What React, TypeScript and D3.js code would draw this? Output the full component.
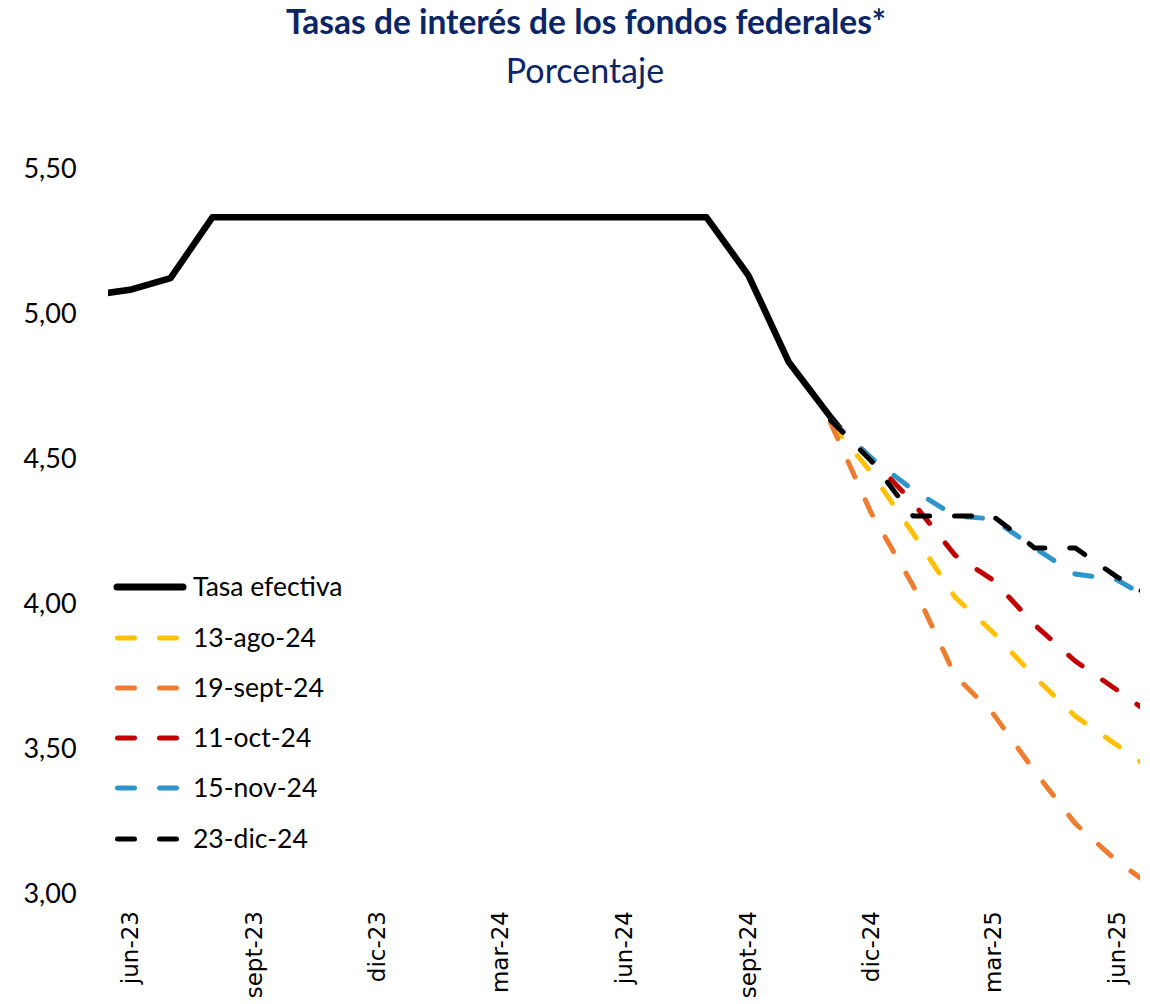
import * as d3 from "d3";

// Tasa efectiva (mensual)
const effDates = [
  "2023-05-01", "2023-06-01", "2023-07-01", "2023-08-01", "2023-09-01", "2023-10-01",
  "2023-11-01", "2023-12-01", "2024-01-01", "2024-02-01", "2024-03-01", "2024-04-01",
  "2024-05-01", "2024-06-01", "2024-07-01", "2024-08-01", "2024-09-01", "2024-10-01",
  "2024-11-01", "2024-11-08",
];
const effValues = [
  5.06, 5.08, 5.12, 5.33, 5.33, 5.33, 5.33, 5.33, 5.33, 5.33, 5.33, 5.33,
  5.33, 5.33, 5.33, 5.33, 5.13, 4.83, 4.64, 4.6,
];

// Expectativas implícitas (futuros)
const fcDates = [
  "2024-11-01", "2024-12-01", "2025-01-01", "2025-02-01", "2025-03-01",
  "2025-04-01", "2025-05-01", "2025-06-01", "2025-07-01",
];
const ago13 = [4.62, 4.45, 4.24, 4.02, 3.9, 3.745, 3.61, 3.51, 3.41];
const sept19 = [4.62, 4.31, 4.06, 3.75, 3.62, 3.42, 3.24, 3.11, 3.01];
const oct11 = [4.63, 4.5, 4.345, 4.165, 4.08, 3.925, 3.8, 3.7, 3.6];
const nov15 = [4.63, 4.5, 4.39, 4.3, 4.29, 4.19, 4.1, 4.08, 4.0];
const dic23 = [4.63, 4.49, 4.3, 4.3, 4.3, 4.19, 4.19, 4.09, 4.01];

const forecastNames = ["13-ago-24", "19-sept-24", "11-oct-24", "15-nov-24", "23-dic-24"];
const forecastColors = ["#FFC000", "#ED7D31", "#C00000", "#2F95C9", "#000000"];
const forecastSeries = [ago13, sept19, oct11, nov15, dic23];

const yTicks = [3.0, 3.5, 4.0, 4.5, 5.0, 5.5];
const monthNames = ["ene", "feb", "mar", "abr", "may", "jun", "jul", "ago", "sept", "oct", "nov", "dic"];

const parse = d3.timeParse("%Y-%m-%d");

export default function App() {
  const width = 1150;
  const height = 1004;
  const plotLeft = 108;
  const plotRight = 1140;

  const x = d3.scaleTime()
    .domain([parse("2023-06-01")!, parse("2025-06-01")!])
    .range([130, 1117]);
  const y = d3.scaleLinear().domain([3, 5.5]).range([893, 168]);

  const line = d3.line<[Date, number]>()
    .x(d => x(d[0]))
    .y(d => y(d[1]));

  const effData: [Date, number][] = effDates.map((d, i) => [parse(d)!, effValues[i]]);
  const fcParsed = fcDates.map(d => parse(d)!);

  // cada 3 meses a partir de jun-23
  const xTicks = d3.timeMonth.range(parse("2023-06-01")!, parse("2025-06-02")!, 3);
  const navy = "#0b2566";
  const font = "Lato, 'Open Sans', sans-serif";

  const legendY = [587, 638, 688, 738, 788, 839];

  return (
    <svg width={width} height={height} style={{ position: "absolute", left: 0, top: 0, background: "#fff" }}>
      <defs>
        <clipPath id="plot-clip">
          <rect x={plotLeft} y={0} width={plotRight - plotLeft} height={height} />
        </clipPath>
      </defs>

      <text x={586} y={34} textAnchor="middle" fontFamily={font} fontWeight="bold" fontSize={33.5} fill={navy}>
        Tasas de interés de los fondos federales*
      </text>
      <text x={585} y={83} textAnchor="middle" fontFamily={font} fontSize={34} fill={navy}>
        Porcentaje
      </text>

      {yTicks.map(t => (
        <text key={t} x={50} y={y(t) + 10} textAnchor="middle" fontFamily={font} fontSize={27} fill="#000">
          {d3.format(".2f")(t).replace(".", ",")}
        </text>
      ))}

      {xTicks.map(t => (
        <text
          key={t.toISOString()}
          transform={`translate(${x(t) + 8},911) rotate(-90)`}
          textAnchor="end"
          fontFamily="'DejaVu Sans', sans-serif"
          fontSize={23}
          fill="#000"
        >
          {`${monthNames[t.getMonth()]}-${String(t.getFullYear()).slice(2)}`}
        </text>
      ))}

      <g clipPath="url(#plot-clip)">
        <path d={line(effData) ?? ""} fill="none" stroke="#000" strokeWidth={6.5} strokeLinejoin="round" />
        {forecastSeries.map((vals, i) => (
          <path
            key={forecastNames[i]}
            d={line(vals.map((v, j) => [fcParsed[j], v] as [Date, number])) ?? ""}
            fill="none"
            stroke={forecastColors[i]}
            strokeWidth={5}
            strokeDasharray="17 25"
            strokeLinecap="round"
            strokeLinejoin="round"
          />
        ))}
      </g>

      <g>
        <line x1={117} x2={183} y1={legendY[0]} y2={legendY[0]} stroke="#000" strokeWidth={7} strokeLinecap="round" />
        <text x={193} y={legendY[0] + 9} fontFamily={font} fontSize={26.5} fill="#000">Tasa efectiva</text>
        {forecastNames.map((name, i) => (
          <g key={name}>
            <line
              x1={117.5}
              x2={177}
              y1={legendY[i + 1]}
              y2={legendY[i + 1]}
              stroke={forecastColors[i]}
              strokeWidth={5}
              strokeDasharray="17 25"
              strokeLinecap="round"
            />
            <text x={193} y={legendY[i + 1] + 9} fontFamily={font} fontSize={26.5} fill="#000">{name}</text>
          </g>
        ))}
      </g>
    </svg>
  );
}
